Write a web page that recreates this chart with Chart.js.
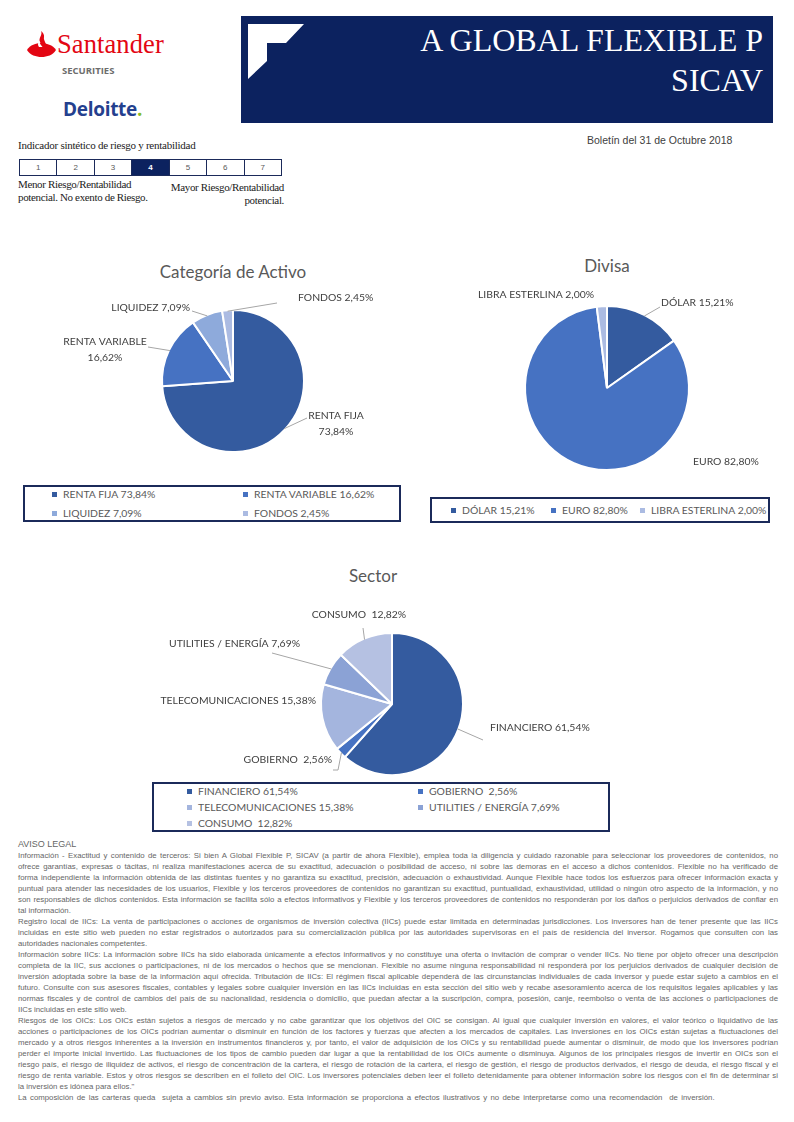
<!DOCTYPE html>
<html><head><meta charset="utf-8">
<script src="https://cdn.jsdelivr.net/npm/chart.js@4.4.0/dist/chart.umd.min.js"></script>
<style>
body{margin:0;width:794px;height:1122px;position:relative;background:#fff;font-family:'Liberation Sans',Arial,sans-serif;overflow:hidden}
.a{position:absolute;white-space:nowrap}
.ser{font-family:'Liberation Serif','Times New Roman',serif}
.cal{font-family:Lato,'Open Sans',sans-serif}
.title{color:#595959;font-size:17px;transform:translate(-50%,-50%)}
.lbox{position:absolute;border:2px solid #1b2a5a;box-sizing:border-box}
.litem{position:absolute;font-size:10.4px;color:#595959;transform:translateY(-50%);white-space:pre}
.litem i{display:inline-block;width:5px;height:5px;margin-right:6px;vertical-align:middle;position:relative;top:-1px}
#risk{position:absolute;left:19px;top:159px;width:263px;height:17px;border:1px solid #1b2a5a;box-sizing:border-box;display:flex}
#risk div{flex:1;border-right:1px solid #1b2a5a;font-size:8px;color:#595959;text-align:center;line-height:15px}
#risk div:last-child{border-right:none}
#risk div.on{background:#0c225f;color:#fff;font-weight:bold}
#legal{position:absolute;left:18px;top:839px;width:760px;font-size:7.8px;color:#666;line-height:11px}
#legal div{white-space:pre;height:11px}
</style></head><body>

<!-- Santander logo -->
<svg class="a" style="left:26px;top:30px" width="32" height="30" viewBox="0 0 32 30">
<path d="M1,20 C4,15 10,13 15,13 C20,13 27,15 30,20 C27,25 21,27 15.5,27 C10,27 4,25 1,20 Z" fill="#e30613"/>
<path d="M15,1 C17,5 12,8 14,12 C15,15 19,16 20,19 C22,14 17,11 18,7 C18.5,5 17,2.5 15,1 Z" fill="#e30613"/>
<path d="M13,17 C11,14 12.5,12 13.5,11 C13,13 15,15 16.5,17 Z" fill="#fff"/>
</svg>
<div class="a ser" style="left:57px;top:29px;font-size:26.5px;color:#e30613;letter-spacing:0.1px">Santander</div>
<div class="a" style="left:62px;top:64px;font-size:9.5px;color:#6d6d6d;font-weight:bold;font-family:'Open Sans',sans-serif">SECURITIES</div>
<div class="a" style="left:63px;top:96px;font-size:19px;color:#24408e;font-weight:bold;font-family:'Open Sans',sans-serif;letter-spacing:-0.3px">Deloitte<span style="color:#86bc25">.</span></div>

<!-- header box -->
<div class="a" style="left:241px;top:16px;width:532px;height:107px;background:#0c225f"></div>
<svg class="a" style="left:241px;top:16px" width="80" height="70"><polygon points="7,8 63,8 45,27 26,27 26,45 7,63" fill="#fff"/></svg>
<div class="a ser" style="right:31px;top:20px;font-size:32px;color:#fff;text-align:right;line-height:40px">A GLOBAL FLEXIBLE P<br>SICAV</div>
<div class="a" style="left:587px;top:134px;font-size:10.5px;color:#404040">Boletín del 31 de Octubre 2018</div>

<!-- risk indicator -->
<div class="a ser" style="left:18px;top:139px;font-size:11px;color:#222;letter-spacing:-0.25px">Indicador sintético de riesgo y rentabilidad</div>
<div id="risk"></div>
<div class="a ser" style="left:18px;top:178px;font-size:11px;color:#222;letter-spacing:-0.35px;line-height:13px">Menor Riesgo/Rentabilidad<br>potencial. No exento de Riesgo.</div>
<div class="a ser" style="right:510px;top:181px;font-size:11px;color:#222;letter-spacing:-0.35px;line-height:13px;text-align:right">Mayor Riesgo/Rentabilidad<br>potencial.</div>

<!-- chart titles -->
<div class="a cal title" style="left:233px;top:271px">Categoría de Activo</div>
<div class="a cal title" style="left:607px;top:265px">Divisa</div>
<div class="a cal title" style="left:373px;top:575px">Sector</div>

<canvas id="c1" class="a" width="390" height="190" style="left:20px;top:285px"></canvas>
<canvas id="c2" class="a" width="370" height="190" style="left:420px;top:285px"></canvas>
<canvas id="c3" class="a" width="470" height="180" style="left:150px;top:600px"></canvas>

<div id="legends"></div>
<div id="legal"></div>

<script>
// ---------- DATA ----------
const catLabels = ['RENTA FIJA', 'RENTA VARIABLE', 'LIQUIDEZ', 'FONDOS'];
const catValues = [73.84, 16.62, 7.09, 2.45];
const curLabels = ['DÓLAR', 'EURO', 'LIBRA ESTERLINA'];
const curValues = [15.21, 82.80, 2.00];
const secLabels = ['FINANCIERO', 'GOBIERNO ', 'TELECOMUNICACIONES', 'UTILITIES / ENERGÍA', 'CONSUMO '];
const secValues = [61.54, 2.56, 15.38, 7.69, 12.82];
const riskScale = ['1', '2', '3', '4', '5', '6', '7'];
const riskLevel = '4';

// ---------- STYLE ----------
const catColors = ['#345b9f', '#4672c2', '#8eaadb', '#abbbe2'];
const curColors = ['#345b9f', '#4672c2', '#abbbe2'];
const secColors = ['#345b9f', '#4672c2', '#a4b5de', '#8ba2d5', '#b5c1e2'];
const FONT = "Lato, 'Open Sans', sans-serif";

// label placement relative to pie center (style only)
const catLabelPos = [
  {x:103, y:35, align:'center', split:true, line:[[74,37]]},
  {x:-128, y:-39, align:'center', split:true, line:[[-85,-34]]},
  {x:-43, y:-73, align:'right', line:[[-41,-70]]},
  {x:65, y:-83, align:'left', line:[[44,-78]]}
];
const curLabelPos = [
  {x:54, y:-85, align:'left', line:[[53,-81]]},
  {x:86, y:74, align:'left'},
  {x:-129, y:-93, align:'left'}
];
const secLabelPos = [
  {x:98, y:24, align:'left', line:[[91,36]]},
  {x:-60, y:56, align:'right', line:[[-54,66],[-59,66]]},
  {x:-76, y:-3, align:'right'},
  {x:-92, y:-60, align:'right', line:[[-120,-51]]},
  {x:-33, y:-89, align:'center', line:[[-29,-76]]}
];

const fmt = v => v.toFixed(2).replace('.', ',') + '%';

// risk boxes
const risk = document.getElementById('risk');
riskScale.forEach(s => {
  const d = document.createElement('div');
  d.textContent = s;
  if (s === riskLevel) d.className = 'on';
  risk.appendChild(d);
});

const labelPlugin = {
  id: 'sliceLabels',
  afterDatasetsDraw(chart, args, opts) {
    const ctx = chart.ctx;
    const meta = chart.getDatasetMeta(0);
    const ds = chart.data.datasets[0];
    meta.data.forEach((arc, i) => {
      const s = opts.pos[i]; if (!s) return;
      const mid = (arc.startAngle + arc.endAngle) / 2;
      const r = arc.outerRadius - 1;
      const cx = arc.x, cy = arc.y;
      ctx.save();
      if (s.line) {
        ctx.strokeStyle = '#a6a6a6'; ctx.lineWidth = 1;
        ctx.beginPath();
        ctx.moveTo(cx + Math.cos(mid) * r, cy + Math.sin(mid) * r);
        s.line.forEach(p => ctx.lineTo(cx + p[0], cy + p[1]));
        ctx.stroke();
      }
      ctx.fillStyle = '#404040';
      ctx.font = '10.4px ' + FONT;
      ctx.textAlign = s.align; ctx.textBaseline = 'middle';
      const name = chart.data.labels[i], val = fmt(ds.data[i]);
      const lines = s.split ? [name.trim(), val] : [name + ' ' + val];
      lines.forEach((t, j) => ctx.fillText(t, cx + s.x, cy + s.y + j * 16));
      ctx.restore();
    });
  }
};

function makePie(id, labels, values, colors, pos, cx, cy, radius) {
  const c = document.getElementById(id);
  const W = c.width, H = c.height;
  const pad = {left:0, right:0, top:0, bottom:0};
  if (2 * cx > W) pad.left = 2 * cx - W; else pad.right = W - 2 * cx;
  if (2 * cy > H) pad.top = 2 * cy - H; else pad.bottom = H - 2 * cy;
  new Chart(c, {
    type: 'pie',
    data: {labels, datasets: [{data: values, backgroundColor: colors, borderColor: '#fff', borderWidth: 2}]},
    options: {
      responsive: false, animation: false, radius: radius,
      layout: {padding: pad},
      plugins: {legend: {display: false}, tooltip: {enabled: false}, sliceLabels: {pos}}
    },
    plugins: [labelPlugin]
  });
}
makePie('c1', catLabels, catValues, catColors, catLabelPos, 213, 96, 71);
makePie('c2', curLabels, curValues, curColors, curLabelPos, 187, 103, 82);
makePie('c3', secLabels, secValues, secColors, secLabelPos, 242, 104, 71);

// legends
const legendDefs = [
  {box:[23,485,378,37], labels:catLabels, values:catValues, colors:catColors, slots:[[52,494],[243,494],[52,513],[243,513]]},
  {box:[430,497,340,26], labels:curLabels, values:curValues, colors:curColors, slots:[[451,510],[551,510],[640,510]]},
  {box:[152,782,458,50], labels:secLabels, values:secValues, colors:secColors, slots:[[187,791],[418,791],[187,807],[418,807],[187,823]]}
];
const lg = document.getElementById('legends');
legendDefs.forEach(d => {
  const b = document.createElement('div');
  b.className = 'lbox';
  b.style.cssText = `left:${d.box[0]}px;top:${d.box[1]}px;width:${d.box[2]}px;height:${d.box[3]}px`;
  lg.appendChild(b);
  d.labels.forEach((l, i) => {
    const it = document.createElement('div');
    it.className = 'litem cal';
    it.style.left = d.slots[i][0] + 'px';
    it.style.top = d.slots[i][1] + 'px';
    it.innerHTML = `<i style="background:${d.colors[i]}"></i>`;
    it.appendChild(document.createTextNode(l + ' ' + fmt(d.values[i])));
    lg.appendChild(it);
  });
});

// legal text (one entry per printed line; 'L' = last line of paragraph)
const legalLines = [
 ['AVISO LEGAL','H'],
 ['Información - Exactitud y contenido de terceros: Si bien A Global Flexible P, SICAV (a partir de ahora Flexible), emplea toda la diligencia y cuidado razonable para seleccionar los proveedores de contenidos, no'],
 ['ofrece garantías, expresas o tácitas, ni realiza manifestaciones acerca de su exactitud, adecuación o posibilidad de acceso, ni sobre las demoras en el acceso a dichos contenidos. Flexible no ha verificado de'],
 ['forma independiente la información obtenida de las distintas fuentes y no garantiza su exactitud, precisión, adecuación o exhaustividad. Aunque Flexible hace todos los esfuerzos para ofrecer información exacta y'],
 ['puntual para atender las necesidades de los usuarios, Flexible y los terceros proveedores de contenidos no garantizan su exactitud, puntualidad, exhaustividad, utilidad o ningún otro aspecto de la información, y no'],
 ['son responsables de dichos contenidos. Esta información se facilita sólo a efectos informativos y Flexible y los terceros proveedores de contenidos no responderán por los daños o perjuicios derivados de confiar en'],
 ['tal información.','L'],
 ['Registro local de IICs: La venta de participaciones o acciones de organismos de inversión colectiva (IICs) puede estar limitada en determinadas jurisdicciones. Los inversores han de tener presente que las IICs'],
 ['incluidas en este sitio web pueden no estar registrados o autorizados para su comercialización pública por las autoridades supervisoras en el país de residencia del inversor. Rogamos que consulten con las'],
 ['autoridades nacionales competentes.','L'],
 ['Información sobre IICs: La información sobre IICs ha sido elaborada únicamente a efectos informativos y no constituye una oferta o invitación de comprar o vender IICs. No tiene por objeto ofrecer una descripción'],
 ['completa de la IIC, sus acciones o participaciones, ni de los mercados o hechos que se mencionan. Flexible no asume ninguna responsabilidad ni responderá por los perjuicios derivados de cualquier decisión de'],
 ['inversión adoptada sobre la base de la información aquí ofrecida. Tributación de IICs: El régimen fiscal aplicable dependerá de las circunstancias individuales de cada inversor y puede estar sujeto a cambios en el'],
 ['futuro. Consulte con sus asesores fiscales, contables y legales sobre cualquier inversión en las IICs incluidas en esta sección del sitio web y recabe asesoramiento acerca de los requisitos legales aplicables y las'],
 ['normas fiscales y de control de cambios del país de su nacionalidad, residencia o domicilio, que puedan afectar a la suscripción, compra, posesión, canje, reembolso o venta de las acciones o participaciones de'],
 ['IICs incluidas en este sitio web.','L'],
 ['Riesgos de los OICs: Los OICs están sujetos a riesgos de mercado y no cabe garantizar que los objetivos del OIC se consigan. Al igual que cualquier inversión en valores, el valor teórico o liquidativo de las'],
 ['acciones o participaciones de los OICs podrían aumentar o disminuir en función de los factores y fuerzas que afecten a los mercados de capitales. Las inversiones en los OICs están sujetas a fluctuaciones del'],
 ['mercado y a otros riesgos inherentes a la inversión en instrumentos financieros y, por tanto, el valor de adquisición de los OICs y su rentabilidad puede aumentar o disminuir, de modo que los inversores podrían'],
 ['perder el importe inicial invertido. Las fluctuaciones de los tipos de cambio pueden dar lugar a que la rentabilidad de los OICs aumente o disminuya. Algunos de los principales riesgos de invertir en OICs son el'],
 ['riesgo país, el riesgo de iliquidez de activos, el riesgo de concentración de la cartera, el riesgo de rotación de la cartera, el riesgo de gestión, el riesgo de productos derivados, el riesgo de deuda, el riesgo fiscal y el'],
 ['riesgo de renta variable. Estos y otros riesgos se describen en el folleto del OIC. Los inversores potenciales deben leer el folleto detenidamente para obtener información sobre los riesgos con el fin de determinar si'],
 ['la inversión es idónea para ellos."','L'],
 ['La composición de las carteras queda  sujeta a cambios sin previo aviso. Esta información se proporciona a efectos ilustrativos y no debe interpretarse como una recomendación  de inversión.','L']
];
const legal = document.getElementById('legal');
const LW = 760;
legalLines.forEach(([t, k]) => {
  const d = document.createElement('div');
  const s = document.createElement('span');
  s.textContent = t;
  if (k === 'H') { s.style.fontSize = '9px'; }
  d.appendChild(s);
  legal.appendChild(d);
  const w = s.getBoundingClientRect().width;
  const spaces = (t.match(/ /g) || []).length;
  if (!k) {
    if (w > LW) s.style.letterSpacing = ((LW - w) / t.length) + 'px';
    else s.style.wordSpacing = ((LW - w) / spaces) + 'px';
  } else if (k === 'L' && t.length > 150) {
    s.style.wordSpacing = '1.2px';
  } else if (w > LW) {
    s.style.letterSpacing = ((LW - w) / t.length) + 'px';
  }
});
</script>
</body></html>
